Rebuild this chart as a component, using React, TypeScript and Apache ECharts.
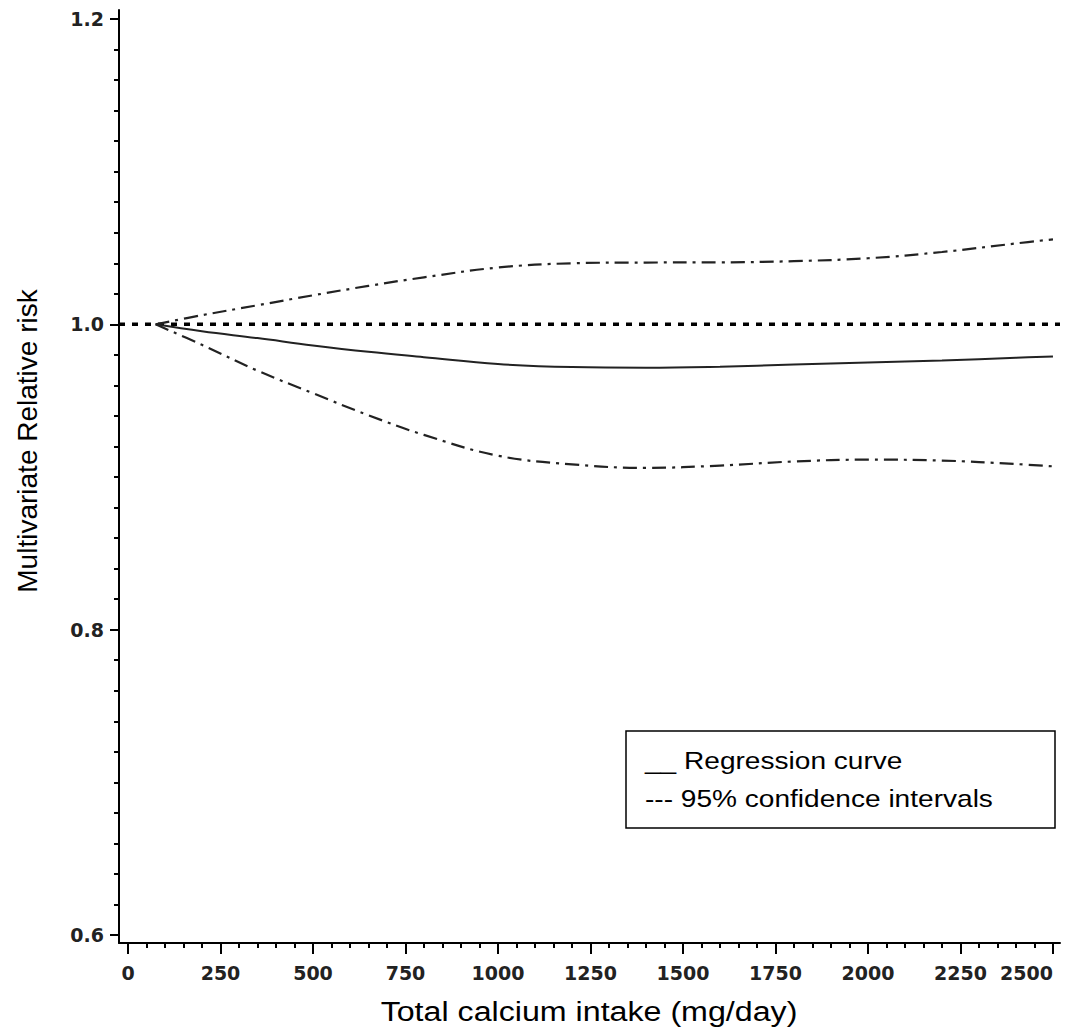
import React, { useEffect, useRef } from 'react';
import * as echarts from 'echarts';

// Total calcium intake (mg/day)
const intake = [75, 200, 350, 500, 650, 800, 1000, 1200, 1400, 1600, 1800, 2000, 2200, 2400, 2500];
// Multivariate relative risk: regression curve
const regression = [1.0, 0.9955, 0.991, 0.9862, 0.982, 0.9785, 0.974, 0.972, 0.9716, 0.9723, 0.9737, 0.975, 0.9764, 0.9781, 0.979];
// 95% confidence intervals
const upperCI = [1.0, 1.006, 1.0125, 1.019, 1.0252, 1.0308, 1.0372, 1.04, 1.0405, 1.0406, 1.0414, 1.0433, 1.0474, 1.053, 1.0557];
const lowerCI = [1.0, 0.9866, 0.9697, 0.9549, 0.9405, 0.9276, 0.914, 0.9083, 0.906, 0.9075, 0.9102, 0.9114, 0.9108, 0.9085, 0.907];
// Reference line at RR = 1
const referenceX = [-24, 2519];
const referenceY = [1.0, 1.0];

const xTitle = 'Total calcium intake (mg/day)';
const yTitle = 'Multivariate Relative risk';
const legendLines = ['__ Regression curve', '--- 95% confidence intervals'];

const pair = (xs: number[], ys: number[]) => xs.map((x, i) => [x, ys[i]]);

export default function App() {
  const ref = useRef<HTMLDivElement>(null);
  useEffect(() => {
    document.body.style.margin = '0';
    const chart = echarts.init(ref.current!, null, { renderer: 'svg' });
    const tickLine = { color: '#000', width: 2 };
    const labelFont = { fontFamily: 'DejaVu Sans', fontWeight: 'bold' as const, fontSize: 19, color: '#222' };
    const titleFont = { fontFamily: 'Liberation Sans', fontSize: 28, fill: '#000' };
    chart.setOption({
      animation: false,
      backgroundColor: '#fff',
      grid: [
        { left: 119, right: 12, top: 10, bottom: 89 },
        { left: 128, right: 19, top: 19, bottom: 97 },
      ],
      xAxis: [
        {
          gridIndex: 0, type: 'value', min: -24, max: 2519,
          axisLine: { show: true, onZero: false, lineStyle: { color: '#000', width: 2 } },
          axisTick: { show: false }, axisLabel: { show: false }, splitLine: { show: false },
        },
        {
          gridIndex: 1, type: 'value', min: 0, max: 2500, interval: 250, offset: 8,
          axisLine: { show: false, onZero: false },
          axisTick: { show: true, length: 11, lineStyle: tickLine },
          minorTick: { show: true, splitNumber: 5, length: 5, lineStyle: tickLine },
          axisLabel: { margin: 20, alignMaxLabel: 'right', formatter: (v: number) => String(v), ...labelFont },
          splitLine: { show: false },
        },
      ],
      yAxis: [
        {
          gridIndex: 0, type: 'value', min: 0.5948, max: 1.2059,
          axisLine: { show: true, onZero: false, lineStyle: { color: '#000', width: 2 } },
          axisTick: { show: false }, axisLabel: { show: false }, splitLine: { show: false },
        },
        {
          gridIndex: 1, type: 'value', min: 0.6, max: 1.2, interval: 0.2, offset: 9,
          axisLine: { show: false, onZero: false },
          axisTick: { show: true, length: 9, lineStyle: tickLine },
          minorTick: { show: true, splitNumber: 10, length: 5, lineStyle: tickLine },
          axisLabel: { margin: 15, formatter: (v: number) => v.toFixed(1), ...labelFont },
          splitLine: { show: false },
        },
      ],
      series: [
        {
          type: 'line', xAxisIndex: 0, yAxisIndex: 0, data: pair(referenceX, referenceY),
          symbol: 'none', lineStyle: { color: '#000', width: 3.5, type: [6, 7] },
        },
        {
          type: 'line', xAxisIndex: 0, yAxisIndex: 0, data: pair(intake, regression),
          symbol: 'none', smooth: 0.4, lineStyle: { color: '#222', width: 2, type: 'solid' },
        },
        {
          type: 'line', xAxisIndex: 0, yAxisIndex: 0, data: pair(intake, upperCI),
          symbol: 'none', smooth: 0.4, lineStyle: { color: '#222', width: 2.2, type: [14, 6, 3, 6] },
        },
        {
          type: 'line', xAxisIndex: 0, yAxisIndex: 0, data: pair(intake, lowerCI),
          symbol: 'none', smooth: 0.4, lineStyle: { color: '#222', width: 2.2, type: [14, 6, 3, 6] },
        },
      ],
      graphic: [
        {
          type: 'rect', shape: { x: 626, y: 731, width: 429, height: 97 },
          style: { fill: '#fff', stroke: '#000', lineWidth: 1.5 }, z: 10,
        },
        {
          type: 'text', x: 645, y: 761, scaleX: 1.17, z: 11,
          style: { text: legendLines[0], ...titleFont, fontSize: 24, verticalAlign: 'middle' },
        },
        {
          type: 'text', x: 645, y: 799, scaleX: 1.17, z: 11,
          style: { text: legendLines[1], ...titleFont, fontSize: 24, verticalAlign: 'middle' },
        },
        {
          type: 'text', x: 27, y: 441, rotation: Math.PI / 2, z: 11,
          style: { text: yTitle, ...titleFont, align: 'center', verticalAlign: 'middle' },
        },
        {
          type: 'text', x: 589, y: 1011, scaleX: 1.15, z: 11,
          style: { text: xTitle, ...titleFont, align: 'center', verticalAlign: 'middle' },
        },
      ],
    });
    return () => chart.dispose();
  }, []);
  return <div ref={ref} style={{ width: 1072, height: 1032 }} />;
}
